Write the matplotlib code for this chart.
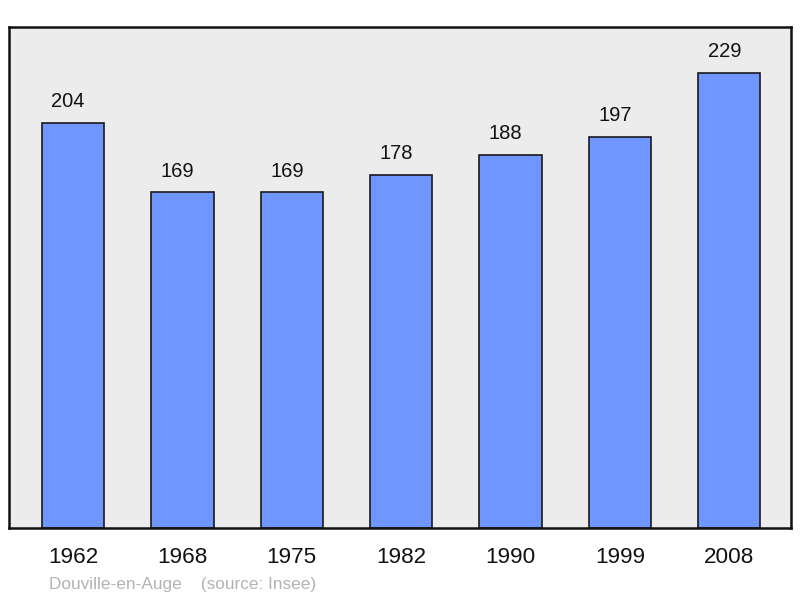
import matplotlib
matplotlib.use('Agg')
import matplotlib.pyplot as plt

years = ['1962', '1968', '1975', '1982', '1990', '1999', '2008']
population = [204, 169, 169, 178, 188, 197, 229]

plt.rcParams['font.family'] = ['Liberation Sans', 'DejaVu Sans']

fig = plt.figure(figsize=(8, 5.98), dpi=100)
ax = fig.add_axes([9 / 800, 70 / 598, 781.5 / 800, 501 / 598])
ax.set_facecolor('#ececec')

x = range(len(years))
ax.bar(x, population, width=0.57, color='#6f96ff', edgecolor='#1a1a1a', linewidth=1.2, zorder=2)

for i, v in zip(x, population):
    ax.annotate(str(v), (i, v), xytext=(-3.5, 8.5), textcoords='offset points',
                ha='center', va='bottom', fontsize=14.5, color='#111111')

ax.set_xlim(-0.585, 6.56)
ax.set_ylim(0, 252.3)
ax.set_xticks(list(x))
ax.set_xticklabels(years, fontsize=16.2, color='#111111')
ax.tick_params(axis='x', length=0, pad=14)
ax.set_yticks([])
for s in ax.spines.values():
    s.set_linewidth(1.8)
    s.set_color('#111111')

fig.text(49 / 800, 1 - 584 / 598, 'Douville-en-Auge    (source: Insee)',
         fontsize=12.4, color='#b3b3b3', ha='left', va='center')

fig.savefig('out.png', dpi=100)
